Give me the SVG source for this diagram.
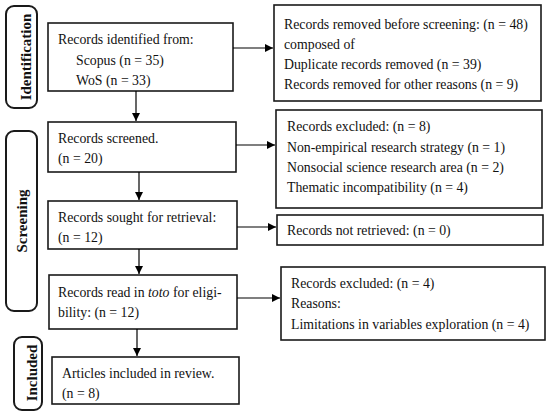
<svg xmlns="http://www.w3.org/2000/svg" width="550" height="418" viewBox="0 0 550 418">
<defs>
<marker id="ah" viewBox="0 0 10 10" refX="10" refY="5" markerWidth="8" markerHeight="8" markerUnits="userSpaceOnUse" orient="auto">
<path d="M0,0 L10,5 L0,10 z" fill="#000"/>
</marker>
<style>
.box{fill:#fff;stroke:#1a1a1a;stroke-width:1.6}
.side{fill:#fff;stroke:#1a1a1a;stroke-width:2}
.t{font-family:"Liberation Serif","Times New Roman",serif;font-size:13.8px;fill:#111}
.s{font-family:"Liberation Serif","Times New Roman",serif;font-size:15px;font-weight:bold;fill:#111}
.c{stroke:#000;stroke-width:1.2;fill:none;marker-end:url(#ah)}
</style>
</defs>
<rect width="550" height="418" fill="#fff"/>
<g id="label-identification">
<rect class="side" x="6" y="6" width="31" height="102" rx="8"/>
<text class="s" transform="translate(31,57) rotate(-90)" text-anchor="middle">Identification</text>
</g>
<g id="label-screening">
<rect class="side" x="6" y="131" width="31" height="180" rx="8"/>
<text class="s" transform="translate(26.5,221) rotate(-90)" text-anchor="middle">Screening</text>
</g>
<g id="label-included">
<rect class="side" x="14" y="337" width="28" height="73" rx="8"/>
<text class="s" transform="translate(37,373) rotate(-90)" text-anchor="middle">Included</text>
</g>
<g id="node-identified">
<rect class="box" x="48" y="23" width="185" height="68"/>
<text class="t" x="58" y="44">Records identified from:</text>
<text class="t" x="76" y="65">Scopus (n = 35)</text>
<text class="t" x="76" y="85">WoS (n = 33)</text>
</g>
<g id="node-removed">
<rect class="box" x="274" y="5" width="267" height="96"/>
<text class="t" x="284" y="29">Records removed before screening: (n = 48)</text>
<text class="t" x="284" y="49">composed of</text>
<text class="t" x="284" y="69">Duplicate records removed (n = 39)</text>
<text class="t" x="284" y="89">Records removed for other reasons (n = 9)</text>
</g>
<g id="node-screened">
<rect class="box" x="48" y="122" width="188" height="50"/>
<text class="t" x="58" y="143">Records screened.</text>
<text class="t" x="58" y="163">(n = 20)</text>
</g>
<g id="node-excluded1">
<rect class="box" x="276" y="110" width="266" height="98"/>
<text class="t" x="287" y="131">Records excluded: (n = 8)</text>
<text class="t" x="287" y="152">Non-empirical research strategy (n = 1)</text>
<text class="t" x="287" y="172">Nonsocial science research area (n = 2)</text>
<text class="t" x="287" y="192">Thematic incompatibility (n = 4)</text>
</g>
<g id="node-sought">
<rect class="box" x="48" y="201" width="189" height="48"/>
<text class="t" x="58" y="222">Records sought for retrieval:</text>
<text class="t" x="58" y="242">(n = 12)</text>
</g>
<g id="node-notretrieved">
<rect class="box" x="277" y="215" width="266" height="30"/>
<text class="t" x="287" y="235">Records not retrieved: (n = 0)</text>
</g>
<g id="node-eligibility">
<rect class="box" x="49" y="275" width="188" height="54"/>
<text class="t" x="58" y="297">Records read in <tspan font-style="italic">toto</tspan> for eligi-</text>
<text class="t" x="58" y="317">bility: (n = 12)</text>
</g>
<g id="node-excluded2">
<rect class="box" x="281" y="267" width="264" height="73"/>
<text class="t" x="291" y="288">Records excluded: (n = 4)</text>
<text class="t" x="291" y="308">Reasons:</text>
<text class="t" x="291" y="329">Limitations in variables exploration (n = 4)</text>
</g>
<g id="node-included">
<rect class="box" x="52" y="357" width="187" height="47"/>
<text class="t" x="62" y="378">Articles included in review.</text>
<text class="t" x="62" y="398">(n = 8)</text>
</g>
<g id="connectors">
<line class="c" x1="233" y1="48" x2="273" y2="48"/>
<line class="c" x1="136" y1="91" x2="136" y2="121"/>
<line class="c" x1="236" y1="145" x2="275" y2="145"/>
<line class="c" x1="139" y1="172" x2="139" y2="200"/>
<line class="c" x1="237" y1="227" x2="276" y2="227"/>
<line class="c" x1="139" y1="249" x2="139" y2="274"/>
<line class="c" x1="237" y1="298" x2="280" y2="298"/>
<line class="c" x1="137" y1="329" x2="137" y2="356"/>
</g>
</svg>
